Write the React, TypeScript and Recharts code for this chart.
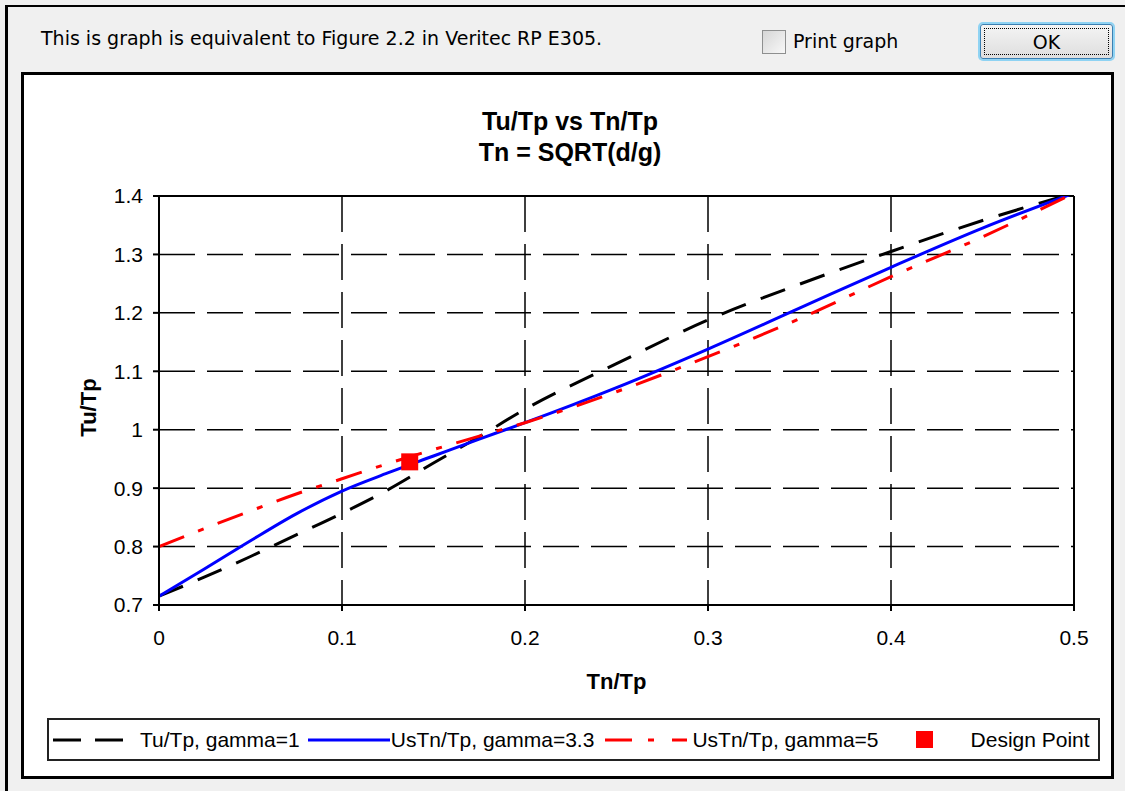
import React from "react";
import {
    ComposedChart,
    Line,
    Scatter,
    XAxis,
    YAxis,
    CartesianGrid,
    ReferenceLine,
    Legend,
    Customized,
} from "recharts";

// Tn/Tp sample points and the three curves
const tnTp = [0, 0.025, 0.05, 0.075, 0.1, 0.125, 0.15, 0.175, 0.2, 0.25, 0.3, 0.35, 0.4, 0.45, 0.5];
const gamma1 = [0.715, 0.748, 0.783, 0.82, 0.857, 0.897, 0.943, 0.988, 1.035, 1.113, 1.188, 1.249, 1.305, 1.358, 1.405];
const gamma33 = [0.715, 0.762, 0.81, 0.856, 0.895, 0.926, 0.955, 0.984, 1.012, 1.072, 1.138, 1.208, 1.278, 1.345, 1.405];
const gamma5 = [0.8, 0.831, 0.861, 0.89, 0.916, 0.942, 0.966, 0.989, 1.012, 1.065, 1.125, 1.19, 1.262, 1.33, 1.405];
const designPoint = [{ x: 0.137, y: 0.945 }];

const xTicks = [0, 0.1, 0.2, 0.3, 0.4, 0.5];
const yTicks = [0.7, 0.8, 0.9, 1, 1.1, 1.2, 1.3, 1.4];

const titleLines = ["Tu/Tp vs Tn/Tp", "Tn = SQRT(d/g)"];
const xLabel = "Tn/Tp";
const yLabel = "Tu/Tp";
const seriesNames = [
    "Tu/Tp, gamma=1",
    "UsTn/Tp, gamma=3.3",
    "UsTn/Tp, gamma=5",
    "Design Point",
];

const chartData = tnTp.map((x, i) => ({
    x,
    g1: gamma1[i],
    g33: gamma33[i],
    g5: gamma5[i],
}));

const ARIAL = '"Liberation Sans", Arial, sans-serif';
const UI_FONT = '"DejaVu Sans", Tahoma, sans-serif';

const fmt = (v: number) => String(Number(v.toFixed(1)));

const Title = () => (
    <g fontFamily={ARIAL} fontWeight="bold" fontSize={25} fill="#000">
        <text x={546} y={55} textAnchor="middle">
            {titleLines[0]}
        </text>
        <text x={546} y={86} textAnchor="middle">
            {titleLines[1]}
        </text>
    </g>
);

const LegendBox = () => (
    <div
        style={{
            boxSizing: "border-box",
            width: 1053,
            height: 43,
            border: "2px solid #222",
            display: "flex",
            alignItems: "center",
            paddingLeft: 4,
            fontFamily: ARIAL,
            fontSize: 21,
            color: "#000",
            whiteSpace: "nowrap",
            background: "#fff",
        }}
    >
        <svg width={70} height={10}>
            <line x1={0} y1={5} x2={70} y2={5} stroke="#000" strokeWidth={3} strokeDasharray="28 14" />
        </svg>
        <span style={{ marginLeft: 17 }}>{seriesNames[0]}</span>
        <svg width={82} height={10} style={{ marginLeft: 8 }}>
            <line x1={0} y1={5} x2={82} y2={5} stroke="#0000ff" strokeWidth={3} />
        </svg>
        <span style={{ marginLeft: 1 }}>{seriesNames[1]}</span>
        <svg width={82} height={10} style={{ marginLeft: 11 }}>
            <line x1={0} y1={5} x2={82} y2={5} stroke="#ff0000" strokeWidth={3} strokeDasharray="27 16 6 18" />
        </svg>
        <span style={{ marginLeft: 5 }}>{seriesNames[2]}</span>
        <div style={{ width: 17, height: 17, background: "#ff0000", marginLeft: 37 }} />
        <span style={{ marginLeft: 38 }}>{seriesNames[3]}</span>
    </div>
);

const DesignSquare = (props: any) => {
    const { cx, cy } = props;
    if (cx == null || cy == null) return null;
    return <rect x={cx - 8.5} y={cy - 8.5} width={17} height={17} fill="#ff0000" />;
};

const App: React.FC = () => {
    const tickStyle = { fill: "#000", fontSize: 21, fontFamily: ARIAL };
    const axisStroke = { stroke: "#000", strokeWidth: 2 };

    return (
        <div
            style={{
                position: "absolute",
                left: 0,
                top: 0,
                width: 1125,
                height: 791,
                background: "#f0f0f0",
                overflow: "hidden",
            }}
        >
            {/* window edge */}
            <div
                style={{
                    position: "absolute",
                    left: 5,
                    top: 5,
                    right: 0,
                    bottom: 0,
                    borderLeft: "3px solid #000",
                    borderTop: "2px solid #000",
                }}
            />
            <div
                style={{
                    position: "absolute",
                    left: 41,
                    top: 27,
                    fontFamily: UI_FONT,
                    fontSize: 19,
                    color: "#000",
                    whiteSpace: "nowrap",
                }}
            >
                This is graph is equivalent to Figure 2.2 in Veritec RP E305.
            </div>
            <div
                style={{
                    position: "absolute",
                    left: 762,
                    top: 30,
                    width: 24,
                    height: 24,
                    boxSizing: "border-box",
                    border: "1px solid #8e8f8f",
                    background: "linear-gradient(135deg, #d6d6d6, #f8f8f8)",
                }}
            />
            <div
                style={{
                    position: "absolute",
                    left: 793,
                    top: 30,
                    fontFamily: UI_FONT,
                    fontSize: 19,
                    color: "#000",
                    whiteSpace: "nowrap",
                }}
            >
                Print graph
            </div>
            <div
                style={{
                    position: "absolute",
                    left: 980,
                    top: 24,
                    width: 133,
                    height: 35,
                    boxSizing: "border-box",
                    border: "1px solid #3c7fb1",
                    borderRadius: 3,
                    boxShadow: "0 0 0 2px #8fd3f3",
                    background: "linear-gradient(#f4f4f4, #dedede)",
                    display: "flex",
                    alignItems: "center",
                    justifyContent: "center",
                    fontFamily: UI_FONT,
                    fontSize: 19,
                }}
            >
                <div
                    style={{
                        position: "absolute",
                        left: 3,
                        top: 3,
                        right: 3,
                        bottom: 3,
                        border: "1px dotted #000",
                    }}
                />
                OK
            </div>

            {/* chart frame */}
            <div
                style={{
                    position: "absolute",
                    left: 21,
                    top: 72,
                    width: 1093,
                    height: 707,
                    boxSizing: "border-box",
                    border: "3px solid #000",
                    background: "#fff",
                }}
            >
                <ComposedChart
                    width={1087}
                    height={701}
                    data={chartData}
                    margin={{ top: 121, right: 37, bottom: 91, left: 50 }}
                >
                    <CartesianGrid stroke="#000" strokeWidth={1.5} strokeDasharray="36 12" />
                    <XAxis
                        dataKey="x"
                        type="number"
                        domain={[0, 0.5]}
                        allowDataOverflow
                        ticks={xTicks}
                        interval={0}
                        tickFormatter={fmt}
                        height={80}
                        tickSize={6}
                        tickMargin={19}
                        tick={tickStyle}
                        axisLine={axisStroke}
                        tickLine={axisStroke}
                        label={{
                            content: (p: any) => {
                                const vb = p.viewBox || {};
                                return (
                                    <text
                                        x={vb.x + vb.width / 2}
                                        y={614}
                                        textAnchor="middle"
                                        fontFamily={ARIAL}
                                        fontWeight="bold"
                                        fontSize={22}
                                        fill="#000"
                                    >
                                        {xLabel}
                                    </text>
                                );
                            },
                        }}
                    />
                    <YAxis
                        type="number"
                        domain={[0.7, 1.4]}
                        allowDataOverflow
                        ticks={yTicks}
                        interval={0}
                        tickFormatter={fmt}
                        width={85}
                        tickSize={6}
                        tickMargin={10}
                        tick={tickStyle}
                        axisLine={axisStroke}
                        tickLine={axisStroke}
                        label={{
                            content: (p: any) => {
                                const vb = p.viewBox || {};
                                const cx = 72;
                                const cy = vb.y + vb.height / 2 + 7;
                                return (
                                    <text
                                        x={cx}
                                        y={cy}
                                        transform={`rotate(-90, ${cx}, ${cy})`}
                                        textAnchor="middle"
                                        fontFamily={ARIAL}
                                        fontWeight="bold"
                                        fontSize={22}
                                        fill="#000"
                                    >
                                        {yLabel}
                                    </text>
                                );
                            },
                        }}
                    />
                    <ReferenceLine y={1.4} stroke="#000" strokeWidth={2} />
                    <ReferenceLine x={0.5} stroke="#000" strokeWidth={2} />
                    <Line
                        type="monotone"
                        dataKey="g1"
                        name={seriesNames[0]}
                        stroke="#000"
                        strokeWidth={3}
                        strokeDasharray="26 16"
                        dot={false}
                        activeDot={false}
                        isAnimationActive={false}
                    />
                    <Line
                        type="monotone"
                        dataKey="g33"
                        name={seriesNames[1]}
                        stroke="#0000ff"
                        strokeWidth={3}
                        dot={false}
                        activeDot={false}
                        isAnimationActive={false}
                    />
                    <Line
                        type="monotone"
                        dataKey="g5"
                        name={seriesNames[2]}
                        stroke="#ff0000"
                        strokeWidth={3}
                        strokeDasharray="27 15 6 15"
                        dot={false}
                        activeDot={false}
                        isAnimationActive={false}
                    />
                    <Scatter
                        data={designPoint}
                        dataKey="y"
                        name={seriesNames[3]}
                        fill="#ff0000"
                        shape={DesignSquare}
                        isAnimationActive={false}
                    />
                    <Legend
                        verticalAlign="middle"
                        align="center"
                        layout="horizontal"
                        content={() => <LegendBox />}
                        wrapperStyle={{ left: 23, top: 643, width: 1053, height: 43 }}
                    />
                    <Customized component={Title} />
                </ComposedChart>
            </div>
        </div>
    );
};

export default App;
